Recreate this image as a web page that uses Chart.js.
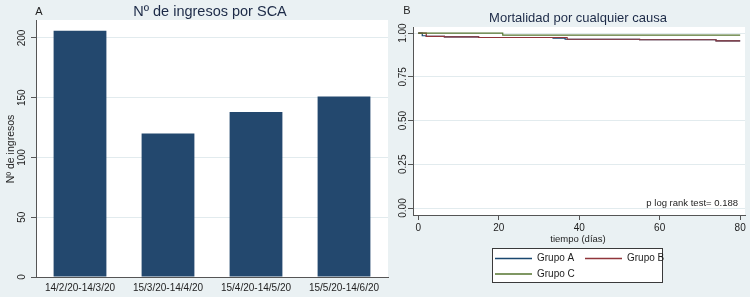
<!DOCTYPE html>
<html><head><meta charset="utf-8">
<script src="https://cdn.jsdelivr.net/npm/chart.js@4.4.1/dist/chart.umd.min.js"></script>
<style>
html,body{margin:0;padding:0;background:#eaf1f3;}
#wrap{position:relative;width:750px;height:297px;overflow:hidden;background:#eaf1f3;}
canvas{position:absolute;top:0;}
#ca{left:0;}
#cb{left:390px;}
</style></head><body>
<div id="wrap">
<canvas id="ca" width="392" height="297"></canvas>
<canvas id="cb" width="360" height="297"></canvas>
</div>
<script>
// ---- Panel A data ----
const periods = ['14/2/20-14/3/20','15/3/20-14/4/20','15/4/20-14/5/20','15/5/20-14/6/20'];
const admissions = [206, 120, 138, 151];
const admissionTicks = [0, 50, 100, 150, 200];

// ---- Panel B data (Kaplan-Meier survival) ----
const daysA = [0, 1, 2, 6.5, 15, 33.5, 36.5, 55, 74, 80];
const survA = [1, 0.985, 0.981, 0.978, 0.975, 0.971, 0.965, 0.962, 0.956, 0.956];
const daysB = [0, 2, 6.5, 15, 37, 55, 74, 80];
const survB = [1, 0.981, 0.978, 0.975, 0.965, 0.962, 0.956, 0.956];
const daysC = [0, 21, 80];
const survC = [1, 0.989, 0.989];
const dayTicks = [0, 20, 40, 60, 80];
const survTicks = [0, 0.25, 0.5, 0.75, 1];
const groupNames = ['Grupo A', 'Grupo B', 'Grupo C'];

const FONT = 'Liberation Sans, Arial, Helvetica, sans-serif';
const axisColor = '#555555';
const gridColor = '#e2ebee';
const textColor = '#1e1e1e';
const titleColor = '#1c2a47';

function pts(xs, ys){ return xs.map((x,i)=>({x:x, y:ys[i]})); }

const whiteArea = {
  id:'whiteArea',
  beforeDraw(chart){
    const a = chart.chartArea, c = chart.ctx;
    c.save(); c.fillStyle = '#ffffff';
    c.fillRect(a.left, a.top, a.right - a.left, a.bottom - a.top);
    c.restore();
  }
};

function rotatedYLabels(chart, x, fmt){
  const s = chart.scales.y, c = chart.ctx;
  c.save();
  c.fillStyle = textColor;
  c.font = '10px ' + FONT;
  c.textAlign = 'center'; c.textBaseline = 'middle';
  s.ticks.forEach(t=>{
    const y = s.getPixelForValue(t.value);
    c.save(); c.translate(x, y); c.rotate(-Math.PI/2);
    c.fillText(fmt(t.value), 0, 0);
    c.restore();
  });
  c.restore();
}

function txt(c, s, x, y, size, color, align, rot){
  c.save();
  c.fillStyle = color; c.font = size + 'px ' + FONT;
  c.textAlign = align || 'center'; c.textBaseline = 'middle';
  c.translate(x, y); if (rot) c.rotate(rot);
  c.fillText(s, 0, 0);
  c.restore();
}

const textA = {
  id:'textA',
  afterDraw(chart){
    const c = chart.ctx;
    txt(c, 'A', 39, 12, 11, textColor);
    txt(c, 'Nº de ingresos por SCA', 210, 11.5, 14.5, titleColor);
    txt(c, 'Nº de ingresos', 11.5, 149, 10.5, textColor, 'center', -Math.PI/2);
    rotatedYLabels(chart, 22.5, v=>String(v));
  }
};

new Chart(document.getElementById('ca'), {
  type:'bar',
  data:{labels:periods, datasets:[{label:'Nº de ingresos', data:admissions, backgroundColor:'#23486e', barPercentage:0.6, categoryPercentage:1}]},
  options:{
    responsive:false, animation:false, devicePixelRatio:1,
    layout:{padding:{left:0, right:4, top:20, bottom:0}},
    plugins:{legend:{display:false}, tooltip:{enabled:false}},
    scales:{
      x:{
        grid:{display:false, drawTicks:false},
        border:{display:true, color:axisColor, width:1},
        ticks:{color:textColor, font:{family:FONT, size:10}, padding:5, maxRotation:0, autoSkip:false},
        afterFit(s){ s.height = 20; }
      },
      y:{
        min:0, max:215,
        afterBuildTicks(s){ s.ticks = admissionTicks.map(v=>({value:v})); },
        grid:{color:gridColor, tickColor:axisColor, tickLength:5},
        border:{display:true, color:axisColor, width:1},
        ticks:{display:false},
        afterFit(s){ s.width = 36; }
      }
    }
  },
  plugins:[whiteArea, textA]
});

const textB = {
  id:'textB',
  afterDraw(chart){
    const c = chart.ctx;
    txt(c, 'B', 17, 11, 11, textColor);
    txt(c, 'Mortalidad por cualquier causa', 188, 18.5, 13, titleColor);
    txt(c, 'tiempo (días)', 188, 239, 9.5, textColor);
    txt(c, 'p log rank test= 0.188', 348, 203, 9.5, textColor, 'right');
    rotatedYLabels(chart, 13.5, v=>v.toFixed(2));
    // legend box
    const bx = 102, by = 248, bw = 170, bh = 34;
    c.save();
    c.fillStyle = '#ffffff'; c.fillRect(bx, by, bw, bh);
    c.strokeStyle = '#3a3a3a'; c.lineWidth = 1;
    c.strokeRect(bx + 0.5, by + 0.5, bw, bh);
    c.restore();
    const pos = [[105, 258.5], [195, 258.5], [105, 274]];
    chart.data.datasets.forEach((d, i)=>{
      const [lx, ly] = pos[i];
      c.save();
      c.strokeStyle = d.borderColor; c.lineWidth = 1.3;
      c.beginPath(); c.moveTo(lx, ly); c.lineTo(lx + 37, ly); c.stroke();
      c.restore();
      txt(c, d.label, lx + 42, ly, 10, textColor, 'left');
    });
  }
};

new Chart(document.getElementById('cb'), {
  type:'line',
  data:{datasets:[
    {label:groupNames[0], data:pts(daysA, survA), borderColor:'#1a476f', borderWidth:1.2, pointRadius:0, stepped:true, fill:false, order:3},
    {label:groupNames[1], data:pts(daysB, survB), borderColor:'#90353b', borderWidth:1.2, pointRadius:0, stepped:true, fill:false, order:2},
    {label:groupNames[2], data:pts(daysC, survC), borderColor:'#55752f', borderWidth:1.2, pointRadius:0, stepped:true, fill:false, order:1}
  ]},
  options:{
    responsive:false, animation:false, devicePixelRatio:1,
    layout:{padding:{left:0, right:5, top:27, bottom:0}},
    plugins:{legend:{display:false}, tooltip:{enabled:false}},
    scales:{
      x:{
        type:'linear', min:-1.3, max:81.2,
        afterBuildTicks(s){ s.ticks = dayTicks.map(v=>({value:v})); },
        grid:{display:true, drawOnChartArea:false, tickColor:axisColor, tickLength:5},
        border:{display:true, color:axisColor, width:1},
        ticks:{color:textColor, font:{family:FONT, size:10}, padding:2, maxRotation:0, autoSkip:false},
        afterFit(s){ s.height = 82; }
      },
      y:{
        min:-0.04, max:1.035,
        afterBuildTicks(s){ s.ticks = survTicks.map(v=>({value:v})); },
        grid:{color:gridColor, tickColor:axisColor, tickLength:5},
        border:{display:true, color:axisColor, width:1},
        ticks:{display:false},
        afterFit(s){ s.width = 23; }
      }
    }
  },
  plugins:[whiteArea, textB]
});
</script>
</body></html>
